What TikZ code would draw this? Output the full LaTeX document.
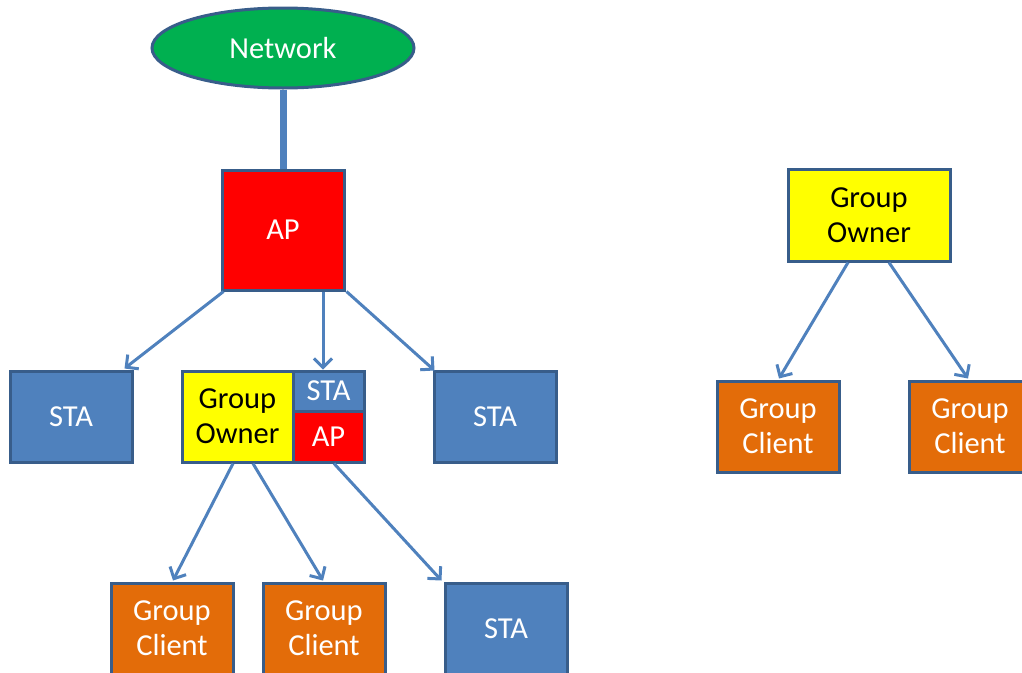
\documentclass[tikz,border=0pt]{standalone}
\usepackage{fontspec}
\setmainfont{Carlito}
\usetikzlibrary{arrows.meta,shapes.geometric}
\definecolor{lineblue}{HTML}{4F81BD}
\definecolor{edgeblue}{HTML}{385D8A}
\definecolor{stablue}{HTML}{4F81BD}
\definecolor{apred}{HTML}{FF0000}
\definecolor{goyellow}{HTML}{FFFF00}
\definecolor{gcorange}{HTML}{E36C09}
\definecolor{netgreen}{HTML}{00B050}
\tikzset{
  box/.style={draw=edgeblue, line width=3pt, rectangle, inner sep=0pt, align=center,
    font=\fontsize{30.5}{35}\selectfont},
  stabox/.style={box, fill=stablue, text=white},
  apbox/.style={box, fill=apred, text=white},
  gobox/.style={box, fill=goyellow, text=black},
  gcbox/.style={box, fill=gcorange, text=white},
  arr/.style={draw=lineblue, line width=3pt, -{Straight Barb[length=9pt,width=18pt,line width=3pt]}},
}
\begin{document}
\begin{tikzpicture}[x=1pt,y=-1pt]
\useasboundingbox (0,0) rectangle (1022,672);
\clip (0,0) rectangle (1022,672);
% Network and AP
\node[ellipse, draw=edgeblue, line width=3pt, fill=netgreen, text=white, minimum width=262pt, minimum height=80pt, inner sep=0pt, font=\fontsize{30.5}{35}\selectfont] (net) at (283,48) {Network};
\node[apbox, minimum width=122pt, minimum height=120pt] (ap) at (283,230) {AP};
\draw[lineblue, line width=7pt] (net.south) -- (ap.north);
% second row
\node[stabox, minimum width=122pt, minimum height=91pt] (sta1) at (71,416.5) {STA};
\node[gobox, minimum width=111pt, minimum height=91pt] (go1) at (237.5,416.5) {Group\\Owner};
\node[stabox, minimum width=71pt, minimum height=40pt] (stas) at (328.5,391) {STA};
\node[apbox, minimum width=71pt, minimum height=51pt] (aps) at (328.5,436.5) {AP};
\node[stabox, minimum width=122pt, minimum height=91pt] (sta2) at (495,416.5) {STA};
% third row
\node[gcbox, minimum width=122pt, minimum height=91pt] (gc1) at (172,628.5) {Group\\Client};
\node[gcbox, minimum width=122pt, minimum height=91pt] (gc2) at (324,628.5) {Group\\Client};
\node[stabox, minimum width=122pt, minimum height=91pt] (sta3) at (506,628.5) {STA};
% right group
\node[gobox, minimum width=162pt, minimum height=92pt] (go2) at (869,215) {Group\\Owner};
\node[gcbox, minimum width=122pt, minimum height=91pt] (gc3) at (778,426.5) {Group\\Client};
\node[gcbox, minimum width=122pt, minimum height=91pt] (gc4) at (970,426.5) {Group\\Client};
% arrows
\draw[arr] ([xshift=3pt]ap.south west) -- ([xshift=-9pt,yshift=1pt]sta1.north east);
\draw[arr] ([xshift=40pt]ap.south) -- ([xshift=40pt]ap.south |- stas.north);
\draw[arr] ([xshift=1pt]ap.south east) -- ([xshift=2pt,yshift=-1pt]sta2.north west);
\draw[arr] ([xshift=-4.5pt]go1.south) -- ([xshift=1pt,yshift=1pt]gc1.north);
\draw[arr] ([xshift=15.5pt]go1.south) -- ([xshift=-1pt,yshift=1pt]gc2.north);
\draw[arr] ([xshift=5.5pt]aps.south) -- ([xshift=-2pt,yshift=1pt]sta3.north west);
\draw[arr] ([xshift=-21pt]go2.south) -- ([xshift=1pt,yshift=1pt]gc3.north);
\draw[arr] ([xshift=20pt]go2.south) -- ([xshift=-2pt,yshift=1pt]gc4.north);
\end{tikzpicture}
\end{document}
